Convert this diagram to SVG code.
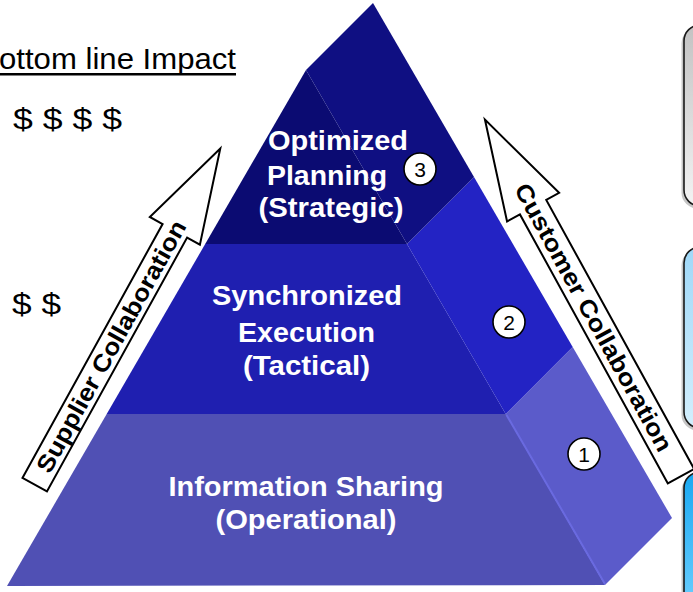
<svg xmlns="http://www.w3.org/2000/svg" width="693" height="592" viewBox="0 0 693 592">
<defs>
<linearGradient id="gGray" x1="0" y1="0" x2="0" y2="1"><stop offset="0" stop-color="#c2c2c2"/><stop offset="1" stop-color="#f3f3f3"/></linearGradient>
<linearGradient id="gLight" x1="0" y1="0" x2="0" y2="1"><stop offset="0" stop-color="#9fd8f8"/><stop offset="1" stop-color="#d3effd"/></linearGradient>
<linearGradient id="gBright" x1="0" y1="0" x2="0" y2="1"><stop offset="0" stop-color="#18a8f2"/><stop offset="1" stop-color="#6ed0ff"/></linearGradient>
<style>
.tier{font-family:"Liberation Sans",Arial,sans-serif;font-weight:bold;font-size:27px;fill:#ffffff;text-anchor:middle}
.lbl{font-family:"Liberation Sans",Arial,sans-serif;font-size:30px;fill:#000000}
.arr{fill:#ffffff;stroke:#000000;stroke-width:2;stroke-linejoin:miter}
.arrtxt{font-family:"Liberation Sans",Arial,sans-serif;font-weight:bold;font-size:24px;fill:#000000}
.num circle{fill:#ffffff;stroke:#000000;stroke-width:1.6}
.num text{font-family:"Liberation Sans",Arial,sans-serif;font-size:21px;fill:#000000;text-anchor:middle}
.box{stroke:#1a1a1a;stroke-width:1.6}
.shadow{fill:#808080;opacity:0.45}
</style>
</defs>
<rect width="693" height="592" fill="#ffffff"/>

<g id="side-boxes">
<g id="box-gray">
<rect class="shadow" x="681.5" y="27.5" width="40" height="181" rx="16"/>
<rect class="box" x="684" y="25" width="40" height="181" rx="16" fill="url(#gGray)"/>
</g>
<g id="box-light">
<rect class="shadow" x="681.5" y="249.5" width="40" height="181" rx="16"/>
<rect class="box" x="684" y="247" width="40" height="181" rx="16" fill="url(#gLight)"/>
</g>
<g id="box-bright">
<rect class="shadow" x="681.5" y="474.5" width="40" height="140" rx="16"/>
<rect class="box" x="684" y="472" width="40" height="140" rx="16" fill="url(#gBright)"/>
</g>
</g>

<g id="impact-labels">
<text class="lbl" x="-1" y="69" textLength="237" lengthAdjust="spacingAndGlyphs">ottom line Impact</text>
<rect x="0" y="73" width="236" height="2.5" fill="#000000"/>
<text class="lbl" x="13" y="129" textLength="109" lengthAdjust="spacingAndGlyphs">$ $ $ $</text>
<text class="lbl" x="12" y="314" textLength="49" lengthAdjust="spacingAndGlyphs">$ $</text>
</g>

<g id="tier-operational">
<polygon points="106.7,414 505.7,414 605,585 7,586" fill="#5050b4"/>
<polygon points="505.7,414 572.7,347 672,518 605,585" fill="#5b5bca"/>
<line x1="506.5" y1="415" x2="605" y2="584" stroke="#6a6ae0" stroke-width="2"/>
<text class="tier" x="306" y="496" textLength="275" lengthAdjust="spacingAndGlyphs">Information Sharing</text>
<text class="tier" x="306" y="529" textLength="181" lengthAdjust="spacingAndGlyphs">(Operational)</text>
</g>

<g id="tier-tactical">
<polygon points="205.2,244 407,244 505.7,414 106.7,414" fill="#1f1fb0"/>
<polygon points="407,244 474,177 572.7,347 505.7,414" fill="#2323c4"/>
<text class="tier" x="307" y="305" textLength="190" lengthAdjust="spacingAndGlyphs">Synchronized</text>
<text class="tier" x="306.5" y="342" textLength="137" lengthAdjust="spacingAndGlyphs">Execution</text>
<text class="tier" x="306.5" y="375" textLength="127" lengthAdjust="spacingAndGlyphs">(Tactical)</text>
</g>

<g id="tier-strategic">
<polygon points="306,70 407,244 205.2,244" fill="#0b0b72"/>
<polygon points="306,70 373,3 474,177 407,244" fill="#0f0f82"/>
<text class="tier" x="338" y="150" textLength="140" lengthAdjust="spacingAndGlyphs">Optimized</text>
<text class="tier" x="327" y="185" textLength="120" lengthAdjust="spacingAndGlyphs">Planning</text>
<text class="tier" x="331" y="217" textLength="145" lengthAdjust="spacingAndGlyphs">(Strategic)</text>
</g>

<g id="badge-3" class="num"><circle cx="420" cy="169" r="16"/><text x="420" y="176.5">3</text></g>
<g id="badge-2" class="num"><circle cx="509" cy="322" r="16"/><text x="509" y="329.5">2</text></g>
<g id="badge-1" class="num"><circle cx="584" cy="454" r="16"/><text x="584" y="461.5">1</text></g>

<g id="connectors">
<g id="supplier-arrow">
<polygon class="arr" transform="translate(34.7,484.7) rotate(-61.1)" points="0,-14 290,-14 290,-28.6 384,0 290,28.6 290,14 0,14"/>
<text class="arrtxt" transform="translate(34.7,484.7) rotate(-61.1)" x="16" y="8.5" textLength="284" lengthAdjust="spacingAndGlyphs">Supplier Collaboration</text>
</g>
<g id="customer-arrow">
<polygon class="arr" transform="translate(681,476.2) rotate(-118.8)" points="0,-15 307,-15 307,-29.7 407,0 307,29.7 307,15 0,15"/>
<text class="arrtxt" transform="translate(485,119.3) rotate(61.2)" x="75" y="8.5" textLength="302" lengthAdjust="spacingAndGlyphs">Customer Collaboration</text>
</g>
</g>
</svg>
